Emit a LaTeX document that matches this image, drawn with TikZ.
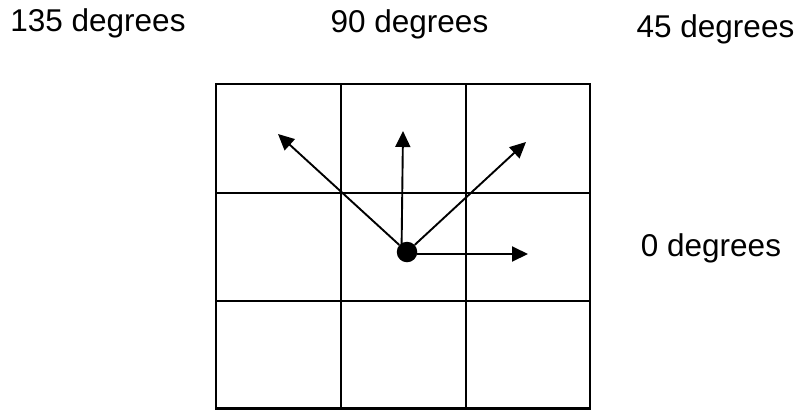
\documentclass[tikz,border=0pt]{standalone}
\usepackage{fontspec}
\setmainfont{Liberation Sans}
\usepackage{tikz}
\usetikzlibrary{arrows.meta}

\tikzset{
  deglabel/.style={anchor=base, inner sep=0pt, font=\fontsize{31.5}{36}\selectfont},
  gridline/.style={line width=2.4pt},
  dirarrow/.style={line width=1.9pt, -{Triangle[length=16pt,width=15pt]}},
  pixel/.style={circle, fill, minimum size=20.5pt, inner sep=0pt}
}

\begin{document}
\begin{tikzpicture}[x=1pt, y=-1pt]
  \useasboundingbox (0,0) rectangle (799,410);

  % Labels
  \node[deglabel] (l135) at (98, 31.7) {135 degrees};
  \node[deglabel] (l90)  at (409.5, 32.3) {90 degrees};
  \node[deglabel] (l45)  at (715.5, 37.3) {45 degrees};
  \node[deglabel] (l0)   at (711, 256.7) {0 degrees};

  % Grid (3 x 3)
  \draw[gridline] (216, 84) rectangle (590, 408.5);
  \foreach \x in {341, 466}
    \draw[gridline] (\x, 84) -- (\x, 408.5);
  \foreach \y in {193, 301}
    \draw[gridline] (216, \y) -- (590, \y);

  % Centre pixel and directions
  \node[pixel] (c) at (407, 252) {};
  \coordinate (t135) at (278, 134);
  \coordinate (t90)  at (403, 131);
  \coordinate (t45)  at (526, 142);
  \coordinate (t0)   at (528, 254);

  \draw[dirarrow] (c) -- (t135);
  \draw[dirarrow] (c.north west) ++(2,0) -- (t90);
  \draw[dirarrow] (c) -- (t45);
  \draw[dirarrow] (c.east) ++(0,2) -- (t0);
\end{tikzpicture}
\end{document}
